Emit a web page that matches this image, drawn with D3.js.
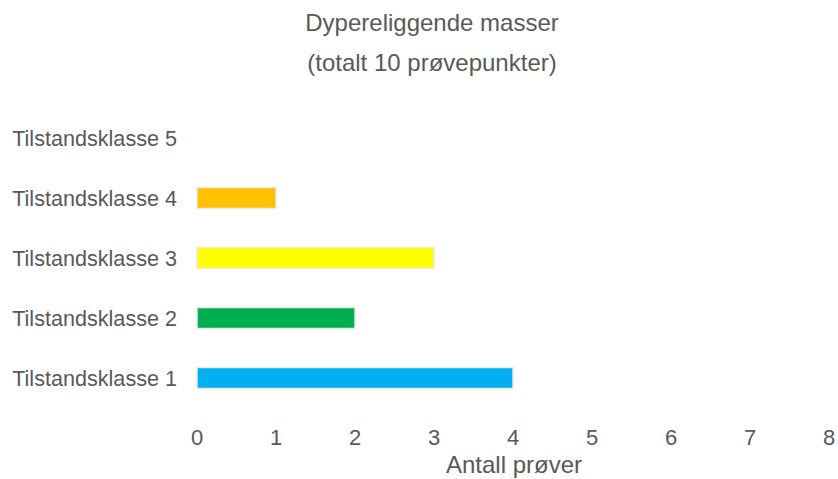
<!DOCTYPE html>
<html>
<head>
<meta charset="utf-8">
<script src="https://cdn.jsdelivr.net/npm/d3@7"></script>
<style>
  body { margin: 0; background: #fff; }
  svg text { font-family: "Liberation Sans", Arial, sans-serif; fill: #595959; }
</style>
</head>
<body>
<div id="chart"></div>
<script>
const categories = ["Tilstandsklasse 5", "Tilstandsklasse 4", "Tilstandsklasse 3", "Tilstandsklasse 2", "Tilstandsklasse 1"];
const counts = [0, 1, 3, 2, 4];
const barColors = ["#ff0000", "#ffc000", "#ffff00", "#00b050", "#00b0f0"];
const xTicks = [0, 1, 2, 3, 4, 5, 6, 7, 8];
const titleLines = ["Dypereliggende masser", "(totalt 10 prøvepunkter)"];
const xTitle = "Antall prøver";

const width = 838, height = 479;

const svg = d3.select("#chart")
  .append("svg")
  .attr("width", width)
  .attr("height", height);

let x = d3.scaleLinear().domain([0, 8]).range([197, 829]);
let y = d3.scaleBand().domain(categories).range([108, 408]).paddingInner(0.65).paddingOuter(0.325);

// title
svg.append("g")
  .selectAll("text")
  .data(titleLines)
  .join("text")
  .attr("x", 432)
  .attr("y", (d, i) => 31 + i * 40)
  .attr("text-anchor", "middle")
  .attr("font-size", "24px")
  .text(d => d);

// bars
svg.append("g")
  .selectAll("rect")
  .data(categories)
  .join("rect")
  .filter((d, i) => counts[i] > 0)
  .attr("x", x(0))
  .attr("y", d => y(d))
  .attr("width", d => x(counts[categories.indexOf(d)]) - x(0))
  .attr("height", y.bandwidth())
  .attr("fill", d => barColors[categories.indexOf(d)])
  .attr("stroke", "#ebe9e3")
  .attr("stroke-width", 1.5);

// category labels
svg.append("g")
  .selectAll("text")
  .data(categories)
  .join("text")
  .attr("x", 177)
  .attr("y", d => y(d) + y.bandwidth() / 2)
  .attr("dy", "0.35em")
  .attr("text-anchor", "end")
  .attr("font-size", "21.6px")
  .text(d => d);

// x tick labels
svg.append("g")
  .selectAll("text")
  .data(xTicks)
  .join("text")
  .attr("x", d => x(d))
  .attr("y", 445)
  .attr("text-anchor", "middle")
  .attr("font-size", "22px")
  .text(d => d);

// x axis title
svg.append("text")
  .attr("x", 514)
  .attr("y", 473)
  .attr("text-anchor", "middle")
  .attr("font-size", "24px")
  .text(xTitle);
</script>
</body>
</html>
